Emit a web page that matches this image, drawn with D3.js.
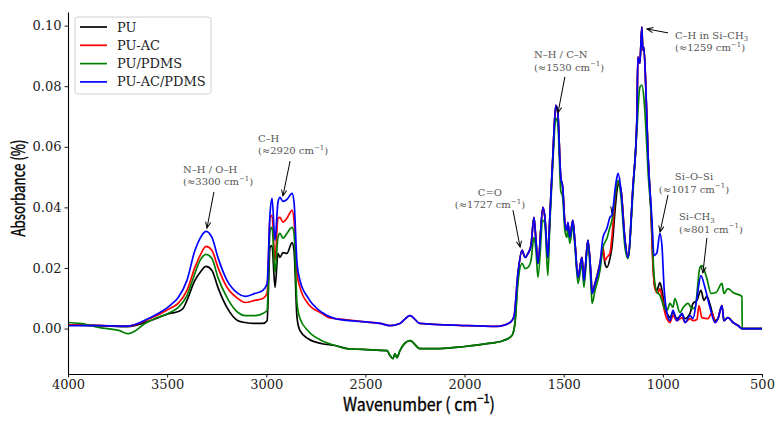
<!DOCTYPE html>
<html>
<head>
<meta charset="utf-8">
<script src="https://cdn.jsdelivr.net/npm/d3@7"></script>
<style>
  body { margin: 0; background: #fff; }
  svg { display: block; }
</style>
</head>
<body>
<svg id="chart" width="783" height="422"></svg>
<script>
// FTIR spectra: [wavenumber cm-1, absorbance]
const PU = [
  [4000,0.0012],[3840,0.0010],[3700,0.0006],[3586,0.0026],[3486,0.0050],[3445,0.0056],[3420,0.0066],
  [3400,0.0093],[3360,0.0159],[3334,0.0185],[3304,0.0205],[3274,0.0192],[3244,0.0136],[3198,0.0069],
  [3143,0.0026],[3107,0.0020],[3057,0.0017],[3017,0.0017],[2996,0.0026],[2981,0.0268],[2971,0.0274],
  [2956,0.0136],[2941,0.0248],[2931,0.0235],[2916,0.0251],[2896,0.0248],[2870,0.0284],[2860,0.0258],
  [2845,0.0036],[2830,-0.0007],[2790,-0.0033],[2719,-0.0050],[2653,-0.0056],[2593,-0.0066],[2512,-0.0069],
  [2391,-0.0073],[2376,-0.0089],[2361,-0.0099],[2351,-0.0083],[2341,-0.0096],[2326,-0.0073],[2275,-0.0040],
  [2225,-0.0066],[2124,-0.0066],[2008,-0.0060],[1887,-0.0050],[1806,-0.0040],[1761,-0.0023],[1746,0.0017],
  [1731,0.0170],[1710,0.0258],[1695,0.0235],[1680,0.0248],[1665,0.0274],[1650,0.0367],[1640,0.0291],
  [1630,0.0215],[1605,0.0400],[1595,0.0367],[1580,0.0235],[1570,0.0367],[1555,0.0565],[1540,0.0737],
  [1530,0.0714],[1515,0.0499],[1505,0.0466],[1494,0.0347],[1484,0.0324],[1479,0.0350],[1469,0.0301],
  [1454,0.0357],[1443,0.0281],[1428,0.0169],[1408,0.0235],[1398,0.0159],[1378,0.0291],[1362,0.0169],
  [1357,0.0116],[1342,0.0149],[1317,0.0215],[1302,0.0258],[1292,0.0215],[1282,0.0202],[1267,0.0231],
  [1257,0.0268],[1237,0.0420],[1226,0.0480],[1211,0.0456],[1191,0.0291],[1176,0.0235],[1151,0.0466],
  [1131,0.0688],[1126,0.0896],[1116,0.0876],[1106,0.0995],[1101,0.0919],[1096,0.0929],[1086,0.0797],
  [1075,0.0579],[1060,0.0390],[1050,0.0218],[1040,0.0136],[1030,0.0126],[1015,0.0152],[1004,0.0126],
  [989,0.0060],[979,0.0050],[964,0.0036],[949,0.0053],[929,0.0033],[903,0.0046],[888,0.0033],
  [863,0.0050],[848,0.0083],[828,0.0093],[808,0.0126],[793,0.0093],[778,0.0106],[762,0.0079],
  [747,0.0043],[737,0.0026],[722,0.0033],[702,0.0076],[692,0.0026],[672,0.0036],[646,0.0020],
  [621,0.0010],[601,0.0],[500,0.0]
];

const PU_AC = [
  [4000,0.0012],[3840,0.0010],[3700,0.0008],[3586,0.0033],[3486,0.0066],[3445,0.0083],[3400,0.0126],
  [3360,0.0202],[3334,0.0241],[3304,0.0271],[3274,0.0258],[3244,0.0202],[3198,0.0136],[3143,0.0099],
  [3107,0.0086],[3057,0.0093],[3017,0.0099],[2996,0.0116],[2981,0.0367],[2971,0.0374],[2956,0.0225],
  [2941,0.0364],[2931,0.0367],[2916,0.0351],[2896,0.0364],[2870,0.0390],[2860,0.0357],[2845,0.0182],
  [2830,0.0136],[2790,0.0083],[2719,0.0050],[2680,0.0035],[2653,0.0033],[2500,0.0022],[2427,0.0017],
  [2376,0.0010],[2326,0.0017],[2275,0.0043],[2225,0.0017],[2008,0.0010],[1837,0.0007],[1771,0.0020],
  [1751,0.0040],[1731,0.0182],[1710,0.0258],[1695,0.0235],[1680,0.0248],[1665,0.0274],[1650,0.0367],
  [1640,0.0291],[1630,0.0215],[1605,0.0400],[1595,0.0367],[1580,0.0235],[1570,0.0367],[1555,0.0565],
  [1540,0.0737],[1530,0.0714],[1515,0.0499],[1505,0.0466],[1494,0.0347],[1484,0.0324],[1479,0.0350],
  [1469,0.0301],[1454,0.0357],[1443,0.0281],[1428,0.0169],[1408,0.0235],[1398,0.0159],[1378,0.0291],
  [1362,0.0169],[1357,0.0116],[1342,0.0149],[1317,0.0215],[1302,0.0268],[1292,0.0225],[1282,0.0235],
  [1267,0.0248],[1257,0.0301],[1237,0.0456],[1226,0.0480],[1211,0.0456],[1191,0.0291],[1176,0.0235],
  [1151,0.0466],[1131,0.0688],[1126,0.0896],[1116,0.0876],[1106,0.0995],[1101,0.0919],[1096,0.0929],
  [1086,0.0797],[1075,0.0579],[1060,0.0390],[1050,0.0208],[1040,0.0132],[1025,0.0116],[1015,0.0132],
  [1004,0.0102],[989,0.0050],[974,0.0026],[964,0.0020],[949,0.0043],[929,0.0026],[903,0.0036],
  [888,0.0020],[863,0.0033],[848,0.0026],[828,0.0030],[818,0.0076],[803,0.0036],[773,0.0033],
  [752,0.0053],[737,0.0020],[722,0.0033],[702,0.0076],[692,0.0026],[672,0.0036],[646,0.0020],
  [621,0.0010],[601,0.0],[500,0.0]
];

const PU_PDMS = [
  [4000,0.0020],[3940,0.0017],[3840,0.0003],[3740,-0.0007],[3700,-0.0017],[3660,-0.0007],[3612,0.0017],
  [3561,0.0033],[3486,0.0053],[3445,0.0069],[3400,0.0109],[3360,0.0182],[3334,0.0225],[3304,0.0245],
  [3274,0.0231],[3244,0.0169],[3198,0.0102],[3143,0.0053],[3107,0.0043],[3057,0.0043],[3017,0.0050],
  [2996,0.0060],[2981,0.0324],[2971,0.0334],[2956,0.0185],[2941,0.0301],[2931,0.0314],[2916,0.0298],
  [2896,0.0314],[2870,0.0334],[2860,0.0314],[2845,0.0083],[2830,0.0033],[2790,-0.0007],[2719,-0.0040],
  [2653,-0.0056],[2593,-0.0066],[2512,-0.0069],[2391,-0.0073],[2376,-0.0089],[2361,-0.0099],[2351,-0.0083],
  [2341,-0.0096],[2326,-0.0073],[2275,-0.0040],[2225,-0.0066],[2124,-0.0066],[2008,-0.0060],[1887,-0.0050],
  [1806,-0.0040],[1761,-0.0023],[1746,0.0017],[1731,0.0149],[1710,0.0215],[1695,0.0198],[1680,0.0202],
  [1665,0.0225],[1650,0.0301],[1640,0.0258],[1630,0.0169],[1605,0.0357],[1595,0.0347],[1580,0.0175],
  [1570,0.0347],[1555,0.0546],[1540,0.0694],[1530,0.0678],[1515,0.0456],[1505,0.0433],[1494,0.0324],
  [1484,0.0301],[1479,0.0331],[1469,0.0281],[1454,0.0340],[1443,0.0268],[1428,0.0149],[1408,0.0215],
  [1398,0.0136],[1378,0.0281],[1362,0.0136],[1357,0.0083],[1342,0.0126],[1317,0.0192],[1302,0.0268],
  [1282,0.0298],[1267,0.0334],[1257,0.0357],[1237,0.0456],[1226,0.0489],[1211,0.0433],[1191,0.0268],
  [1176,0.0231],[1151,0.0446],[1131,0.0655],[1116,0.0797],[1106,0.0804],[1096,0.0764],[1086,0.0665],
  [1075,0.0522],[1055,0.0334],[1045,0.0180],[1030,0.0120],[1015,0.0110],[1004,0.0090],[994,0.0070],
  [979,0.0060],[964,0.0083],[949,0.0070],[939,0.0099],[914,0.0053],[898,0.0069],[873,0.0083],
  [853,0.0066],[838,0.0069],[813,0.0202],[803,0.0208],[778,0.0165],[757,0.0116],[732,0.0119],
  [702,0.0149],[692,0.0116],[672,0.0132],[646,0.0119],[601,0.0106],[600,0.0],[500,0.0]
];

const PU_AC_PDMS = [
  [4000,0.0010],[3840,0.0010],[3700,0.0008],[3586,0.0036],[3486,0.0076],[3445,0.0102],[3400,0.0159],
  [3360,0.0258],[3334,0.0298],[3304,0.0321],[3274,0.0301],[3244,0.0235],[3198,0.0159],[3143,0.0116],
  [3107,0.0106],[3057,0.0116],[3017,0.0126],[2996,0.0149],[2981,0.0380],[2971,0.0430],[2956,0.0291],
  [2941,0.0417],[2931,0.0433],[2916,0.0420],[2896,0.0426],[2870,0.0446],[2860,0.0417],[2845,0.0215],
  [2830,0.0159],[2790,0.0102],[2719,0.0053],[2653,0.0033],[2500,0.0022],[2427,0.0017],[2376,0.0010],
  [2326,0.0017],[2275,0.0043],[2225,0.0017],[2008,0.0010],[1837,0.0007],[1771,0.0020],[1751,0.0040],
  [1731,0.0182],[1710,0.0258],[1695,0.0235],[1680,0.0248],[1665,0.0274],[1650,0.0367],[1640,0.0291],
  [1630,0.0215],[1605,0.0400],[1595,0.0367],[1580,0.0235],[1570,0.0367],[1555,0.0565],[1540,0.0737],
  [1530,0.0714],[1515,0.0499],[1505,0.0466],[1494,0.0347],[1484,0.0324],[1479,0.0350],[1469,0.0301],
  [1454,0.0357],[1443,0.0281],[1428,0.0169],[1408,0.0235],[1398,0.0159],[1378,0.0291],[1362,0.0169],
  [1357,0.0116],[1342,0.0149],[1317,0.0215],[1302,0.0301],[1282,0.0331],[1267,0.0367],[1257,0.0374],
  [1237,0.0479],[1226,0.0512],[1211,0.0456],[1191,0.0291],[1176,0.0235],[1151,0.0466],[1131,0.0688],
  [1126,0.0896],[1116,0.0876],[1106,0.0995],[1101,0.0919],[1096,0.0929],[1086,0.0797],[1075,0.0579],
  [1055,0.0357],[1045,0.0241],[1030,0.0251],[1015,0.0314],[1004,0.0268],[994,0.0136],[979,0.0050],
  [964,0.0026],[949,0.0060],[929,0.0026],[903,0.0050],[888,0.0020],[863,0.0043],[848,0.0033],
  [828,0.0102],[808,0.0175],[788,0.0136],[762,0.0069],[737,0.0020],[722,0.0033],[702,0.0076],
  [692,0.0026],[672,0.0036],[646,0.0020],[621,0.0010],[601,0.0],[500,0.0]
];

const seriesNames = ['PU', 'PU-AC', 'PU/PDMS', 'PU-AC/PDMS'];
const seriesData = [PU, PU_AC, PU_PDMS, PU_AC_PDMS];
const seriesColors = ['#000000', '#ff0000', '#008000', '#0000ff'];

const xTicks = [4000, 3500, 3000, 2500, 2000, 1500, 1000, 500];
const yTicks = [0.00, 0.02, 0.04, 0.06, 0.08, 0.10];

// peak labels: tip/tail of arrow and first text line, in data units
const notes = [
  { lines: ['N–H / O–H', '(≈3300 cm^{−1})'], tip: [3299, 0.0332], tail: [3264, 0.0451], at: [3420, 0.0514], anchor: 'start' },
  { lines: ['C–H', '(≈2920 cm^{−1})'], tip: [2916, 0.0438], tail: [2880, 0.0553], at: [3042, 0.0616], anchor: 'start' },
  { lines: ['C=O', '(≈1727 cm^{−1})'], tip: [1720, 0.0269], tail: [1756, 0.0391], at: [1872, 0.0438], anchor: 'middle' },
  { lines: ['N–H / C–N', '(≈1530 cm^{−1})'], tip: [1529, 0.0712], tail: [1494, 0.0831], at: [1650, 0.0893], anchor: 'start' },
  { lines: ['C–H in Si–CH_{3}', '(≈1259 cm^{−1})'], tip: [1080, 0.0989], tail: [974, 0.0976], at: [939, 0.0956], anchor: 'start' },
  { lines: ['Si–O–Si', '(≈1017 cm^{−1})'], tip: [1014, 0.0319], tail: [974, 0.0441], at: [843, 0.0490], anchor: 'middle' },
  { lines: ['Si–CH_{3}', '(≈801 cm^{−1})'], tip: [798, 0.0184], tail: [778, 0.0299], at: [919, 0.0358], anchor: 'start' }
];
// stray arrow that sits under the curves near 1257 cm-1
const hiddenArrow = { tip: [1257, 0.0382], tail: [1216, 0.0497] };

const W = 783, H = 422;
const margin = { top: 12, right: 21, bottom: 48, left: 68 };
const svg = d3.select('#chart');

const x = d3.scaleLinear().domain([4000, 500]).range([margin.left, W - margin.right]);
const y = d3.scaleLinear().domain([-0.015, 0.1045]).range([H - margin.bottom, margin.top]);

const serif = 'DejaVu Serif, serif';

svg.append('defs').append('clipPath').attr('id', 'plotclip')
  .append('rect')
  .attr('x', margin.left).attr('y', margin.top)
  .attr('width', W - margin.left - margin.right)
  .attr('height', H - margin.top - margin.bottom);

const marker = svg.select('defs').append('marker')
  .attr('id', 'arrowhead')
  .attr('viewBox', '-8 -5 10 10')
  .attr('refX', 0).attr('refY', 0)
  .attr('markerWidth', 10).attr('markerHeight', 10)
  .attr('markerUnits', 'userSpaceOnUse')
  .attr('orient', 'auto');
marker.append('path')
  .attr('d', 'M-6,-2.6 L0,0 L-6,2.6')
  .attr('fill', 'none').attr('stroke', '#000').attr('stroke-width', 1);

function drawArrow(g, a) {
  g.append('line')
    .attr('x1', x(a.tail[0])).attr('y1', y(a.tail[1]))
    .attr('x2', x(a.tip[0])).attr('y2', y(a.tip[1]))
    .attr('stroke', '#000').attr('stroke-width', 1)
    .attr('marker-end', 'url(#arrowhead)');
}

drawArrow(svg.append('g'), hiddenArrow);

// spectra
const line = d3.line()
  .x(d => x(d[0]))
  .y(d => y(d[1]))
  .curve(d3.curveMonotoneX);

svg.append('g').attr('clip-path', 'url(#plotclip)')
  .selectAll('path')
  .data(seriesData)
  .enter().append('path')
  .attr('d', line)
  .attr('fill', 'none')
  .attr('stroke', (d, i) => seriesColors[i])
  .attr('stroke-width', 1.7)
  .attr('stroke-linejoin', 'round');

// axes
const yAxis = svg.append('g')
  .attr('transform', `translate(${margin.left},0)`)
  .call(d3.axisLeft(y).tickValues(yTicks).tickFormat(d3.format('.2f')).tickSizeInner(3.5).tickSizeOuter(0).tickPadding(3));
const xAxis = svg.append('g')
  .attr('transform', `translate(0,${H - margin.bottom})`)
  .call(d3.axisBottom(x).tickValues(xTicks).tickFormat(d3.format('d')).tickSizeInner(3.5).tickSizeOuter(0).tickPadding(2.5));

[xAxis, yAxis].forEach(ax => {
  ax.select('.domain').attr('stroke', '#000').attr('stroke-width', 1.1);
  ax.selectAll('.tick line').attr('stroke', '#000').attr('stroke-width', 0.9);
  ax.selectAll('.tick text').attr('fill', '#222').style('font-family', serif).style('font-size', '13px');
});

// rich text: ^{..} superscript, _{..} subscript
function richText(textEl, str, size) {
  const parts = str.split(/(\^\{[^}]*\}|_\{[^}]*\})/).filter(s => s.length);
  let shift = 0;
  parts.forEach(p => {
    let dy = 0, fs = size, content = p;
    if (p.startsWith('^{')) { content = p.slice(2, -1); dy = -size * 0.42; fs = size * 0.7; }
    else if (p.startsWith('_{')) { content = p.slice(2, -1); dy = size * 0.25; fs = size * 0.7; }
    textEl.append('tspan')
      .attr('dy', dy - shift)
      .style('font-size', fs + 'px')
      .text(content);
    shift = dy;
  });
}

// annotations
const noteG = svg.append('g');
notes.forEach(n => {
  drawArrow(noteG, n);
  n.lines.forEach((ln, i) => {
    const t = noteG.append('text')
      .attr('x', x(n.at[0]))
      .attr('y', y(n.at[1]) + i * 12.5)
      .attr('text-anchor', n.anchor)
      .attr('fill', '#555')
      .style('font-family', serif)
      .style('font-size', '10px');
    richText(t, ln, 10);
  });
});

// axis titles: condensed look, squeezed to the reference width
const titleFont = '"Noto Sans CJK SC", sans-serif';
function squeeze(sel, cx, cy, rot, target) {
  const w = sel.node().getComputedTextLength();
  sel.attr('transform', `translate(${cx},${cy}) rotate(${rot}) scale(${target / w},1)`);
}

const xt = svg.append('text')
  .attr('text-anchor', 'middle')
  .attr('fill', '#000')
  .attr('stroke', '#000').attr('stroke-width', 0.35)
  .style('font-family', titleFont)
  .style('font-size', '18px');
richText(xt, 'Wavenumber ( cm^{−1})', 18);
squeeze(xt, 419, 411, 0, 152);

const yt = svg.append('text')
  .attr('text-anchor', 'middle')
  .attr('fill', '#000')
  .attr('stroke', '#000').attr('stroke-width', 0.35)
  .style('font-family', titleFont)
  .style('font-size', '18px')
  .text('Absorbance (%)');
squeeze(yt, 25, 188, -90, 97);

// legend
const lg = svg.append('g').attr('transform', 'translate(75,17)');
lg.append('rect')
  .attr('width', 136).attr('height', 77)
  .attr('rx', 3)
  .attr('fill', '#fff').attr('fill-opacity', 0.8)
  .attr('stroke', '#d0d0d0').attr('stroke-width', 1);
const items = lg.selectAll('g.item')
  .data(seriesNames)
  .enter().append('g')
  .attr('transform', (d, i) => `translate(0,${10 + i * 18.3})`);
items.append('line')
  .attr('x1', 5).attr('x2', 32)
  .attr('stroke', (d, i) => seriesColors[i])
  .attr('stroke-width', 1.7);
items.append('text')
  .attr('x', 42).attr('y', 4.5)
  .attr('fill', '#222')
  .style('font-family', serif)
  .style('font-size', '13px')
  .text(d => d);
</script>
</body>
</html>
